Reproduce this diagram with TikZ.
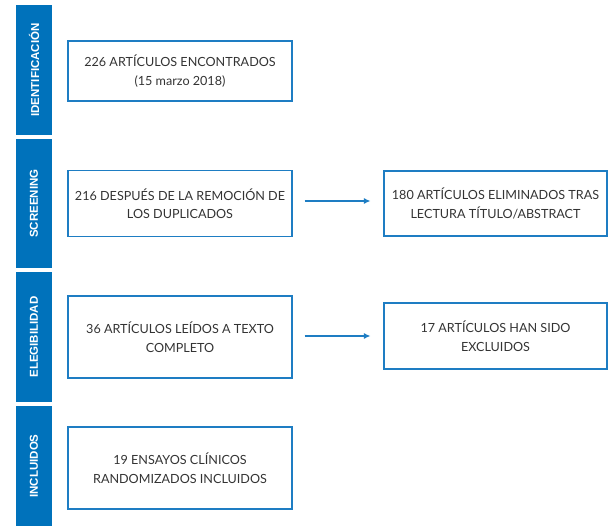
\documentclass[tikz,border=0pt]{standalone}
\usepackage{fontspec}
\setmainfont{Lato}
\newfontfamily\barfont{Liberation Sans}
\usetikzlibrary{arrows.meta}
\definecolor{barblue}{RGB}{0,114,187}
\definecolor{boxblue}{RGB}{30,125,195}
\definecolor{txtgray}{RGB}{51,51,51}

\begin{document}
\begin{tikzpicture}[x=1pt,y=-1pt,
    phase/.style={fill=barblue,rotate=90,minimum height=36pt,inner sep=0pt,
      text=white,font=\barfont\bfseries\fontsize{11.5}{13}\selectfont},
    stagebox/.style={draw=boxblue,line width=1.1pt,minimum width=224pt,
      align=center,text=txtgray,font=\fontsize{12.6}{18.5}\selectfont},
    flow/.style={draw=boxblue,line width=1.2pt,-{Latex[length=6.5pt,width=6pt]},
      shorten <=12pt,shorten >=13pt}]
   \useasboundingbox (0,0) rectangle (608,526);
   % phases
   \begin{scope}
    \node[phase,minimum width=130pt] (ident) at (34,70) {IDENTIFICACIÓN};
    \node[phase,minimum width=129pt] (screen) at (34,203.5) {SCREENING};
    \node[phase,minimum width=130pt] (eleg) at (34,337) {ELEGIBILIDAD};
    \node[phase,minimum width=120pt] (incl) at (34,466) {INCLUIDOS};
   \end{scope}
   % boxes
   \begin{scope}
    \node[stagebox,minimum height=60pt] (found) at (180,71)
      {226 ARTÍCULOS ENCONTRADOS\\(15 marzo 2018)};
    \node[stagebox,minimum height=66pt] (dupl) at (180,203.5)
      {216 DESPUÉS DE LA REMOCIÓN DE\\LOS DUPLICADOS};
    \node[stagebox,minimum width=223pt,minimum height=65pt] (elim) at (495.5,203.5)
      {180 ARTÍCULOS ELIMINADOS TRAS\\LECTURA TÍTULO/ABSTRACT};
    \node[stagebox,minimum height=82pt] (read) at (180,337)
      {36 ARTÍCULOS LEÍDOS A TEXTO\\COMPLETO};
    \node[stagebox,minimum width=223pt,minimum height=66pt] (excl) at (495.5,336)
      {17 ARTÍCULOS HAN SIDO\\EXCLUIDOS};
    \node[stagebox,minimum height=82pt] (rct) at (180,468)
      {19 ENSAYOS CLÍNICOS\\RANDOMIZADOS INCLUIDOS};
   \end{scope}
   % arrows
   \draw[flow] (dupl.east|-0,201) -- (elim.west|-0,201);
   \draw[flow] (read.east|-0,336) -- (excl.west|-0,336);
\end{tikzpicture}
\end{document}
